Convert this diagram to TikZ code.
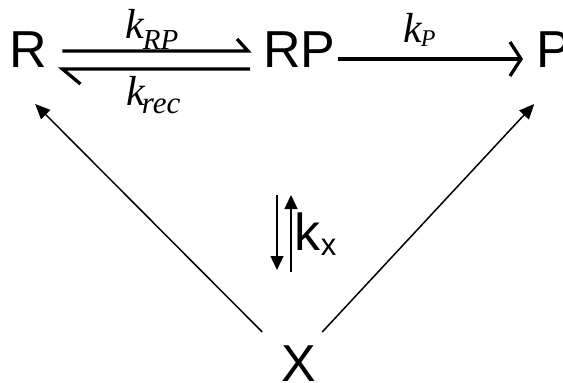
\documentclass[tikz,border=0pt]{standalone}
\usepackage{fontspec}
\setmainfont{Liberation Sans}
\newfontfamily\tnr{Liberation Serif}
\usetikzlibrary{arrows.meta}
\begin{document}
\begin{tikzpicture}[x=1pt,y=-1pt,
  species/.style={inner sep=0pt,anchor=base west,font=\fontsize{52}{52}\selectfont},
  rate/.style={inner sep=0pt,anchor=base west,font=\fontsize{42}{42}\selectfont\tnr\itshape},
  thick line/.style={line width=3.3pt,line cap=butt,line join=miter},
  thin arrow/.style={line width=1.5pt,-{Triangle[length=15pt,width=13pt]}},
  vert arrow/.style={line width=1.4pt,-{Triangle[length=14pt,width=13pt]}}]
\useasboundingbox (0,0) rectangle (563,383);
% species
\node[species] (R) at (9,67) {R};
\node[species] (RP) at (263,67) {RP};
\node[species] (P) at (536,67) {P};
\node[species] (X) at (281,381) {X};
% rate labels
\node[rate] (kRP) at (125,38) {k\kern-1pt\raisebox{-11pt}{\fontsize{29}{29}\selectfont RP}};
\node[rate] (krec) at (126,105) {k\kern-3pt\raisebox{-8pt}{\fontsize{31}{31}\selectfont rec}};
\node[rate] (kP) at (403,42) {k\kern-1pt\raisebox{-4pt}{\fontsize{24}{24}\selectfont P}};
\node[species] (kx) at (294.6,250) {k\raisebox{-5pt}{\fontsize{31}{31}\selectfont x}};
% equilibrium R <-> RP
\draw[thick line] ([xshift=15.5pt,yshift=16pt]R.base east) -- ([xshift=-15pt,yshift=16pt]RP.base west) -- ++(-11,-12);
\draw[thick line] ([xshift=-13pt,yshift=-2pt]RP.base west) -- ([xshift=15.5pt,yshift=-2pt]R.base east) -- ++(18,15);
% RP -> P
\draw[thick line] ([xshift=2pt,yshift=8pt]RP.base east) -- ([xshift=-15pt,yshift=8pt]P.base west) coordinate (tipP);
\draw[thick line] ([xshift=-11pt,yshift=17pt]tipP) -- (tipP) -- ([xshift=-11pt,yshift=-17pt]tipP);
% X -> R, X -> P
\draw[thin arrow] ([xshift=-36.3pt,yshift=49pt]X.base) -- ([xshift=7.2pt,yshift=-37pt]R.base);
\draw[thin arrow] ([xshift=23.7pt,yshift=49pt]X.base) -- ([xshift=-19.3pt,yshift=-37pt]P.base);
% vertical kx arrows
\draw[vert arrow] ([xshift=-17.6pt,yshift=55pt]kx.base west) -- ([xshift=-17.6pt,yshift=-20pt]kx.base west);
\draw[vert arrow] ([xshift=-3.6pt,yshift=-22pt]kx.base west) -- ([xshift=-3.6pt,yshift=55pt]kx.base west);
\end{tikzpicture}
\end{document}
